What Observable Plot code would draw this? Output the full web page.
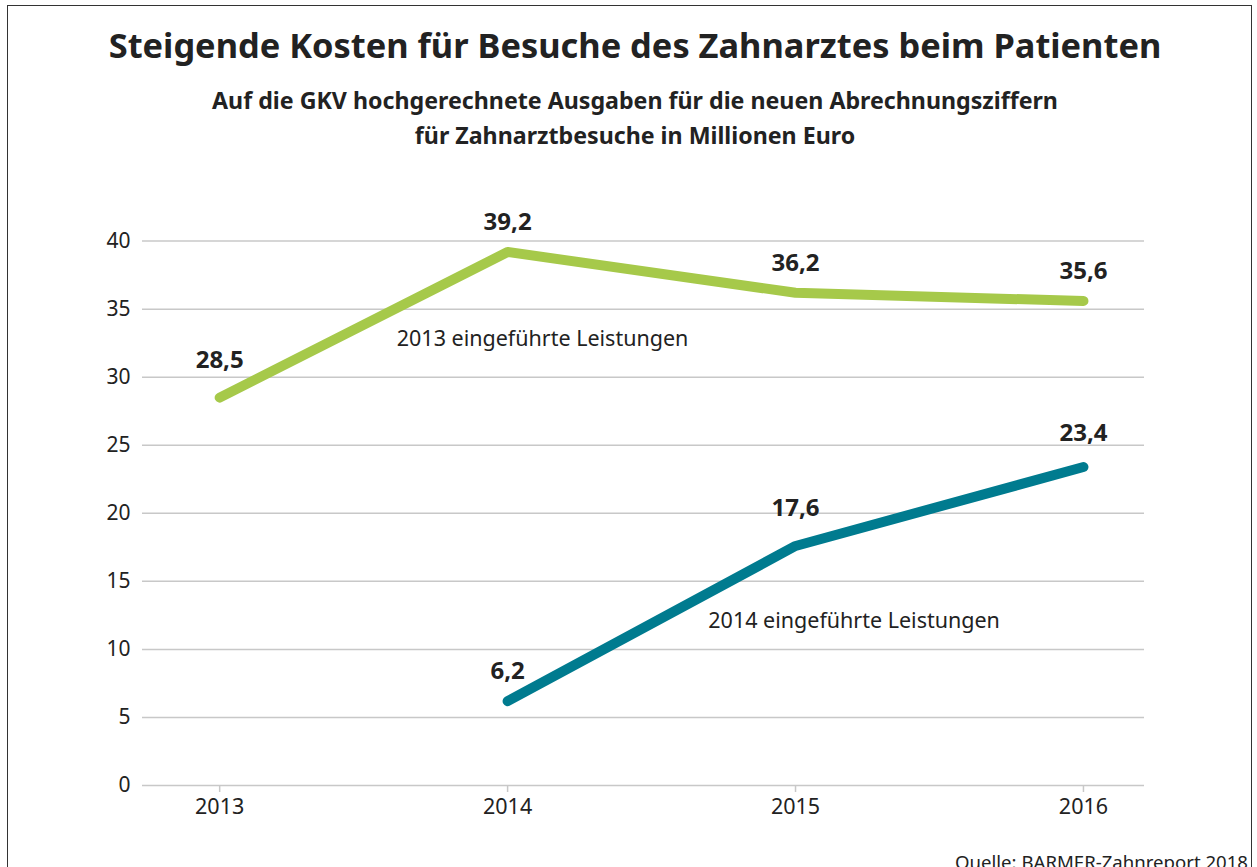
<!DOCTYPE html>
<html>
<head>
<meta charset="utf-8">
<script src="https://cdn.jsdelivr.net/npm/d3@7"></script>
<script src="https://cdn.jsdelivr.net/npm/@observablehq/plot@0.6"></script>
<style>
  html, body { margin: 0; padding: 0; background: #fff; }
  body { width: 1257px; height: 867px; overflow: hidden; position: relative; font-family: "Noto Sans", sans-serif; color: #222; }
  #frame { position: absolute; left: 7px; top: 5px; width: 1245px; height: 1000px; border: 1.5px solid #333; border-bottom: none; box-sizing: border-box; }
  #title { position: absolute; left: 10px; width: 1250px; top: 28px; text-align: center; font-size: 34.4px; line-height: 34px; font-weight: bold; white-space: nowrap; }
  #subtitle { position: absolute; left: 10px; width: 1250px; top: 83px; text-align: center; font-size: 23.2px; line-height: 35px; font-weight: bold; white-space: nowrap; }
  #caption { position: absolute; right: 9px; top: 852px; font-size: 18.6px; line-height: 19px; background: #fff; padding-left: 4px; white-space: nowrap; }
  #chart { position: absolute; left: 0; top: 0; }
</style>
</head>
<body>
<div id="frame"></div>
<div id="chart"></div>
<div id="title">Steigende Kosten für Besuche des Zahnarztes beim Patienten</div>
<div id="subtitle">Auf die GKV hochgerechnete Ausgaben für die neuen Abrechnungsziffern<br>für Zahnarztbesuche in Millionen Euro</div>
<div id="caption">Quelle: BARMER-Zahnreport 2018</div>
<script>
// ---- data ----
const years2013 = [2013, 2014, 2015, 2016];
const values2013 = [28.5, 39.2, 36.2, 35.6];
const years2014 = [2014, 2015, 2016];
const values2014 = [6.2, 17.6, 23.4];
const seriesNames = ["2013 eingeführte Leistungen", "2014 eingeführte Leistungen"];
const seriesColors = ["#a6c94a", "#007b8f"];
const xTicks = [2013, 2014, 2015, 2016];
const yTicks = [0, 5, 10, 15, 20, 25, 30, 35, 40];
// annotation anchors (in data units)
const annoX = [2013.615, 2014.697];
const annoY = [32.3, 11.6];

const fmt = v => v.toFixed(1).replace(".", ",");
const rows2013 = years2013.map((year, i) => ({year, value: values2013[i], series: seriesNames[0]}));
const rows2014 = years2014.map((year, i) => ({year, value: values2014[i], series: seriesNames[1]}));
const allRows = rows2013.concat(rows2014);
const annotations = seriesNames.map((name, i) => ({name, x: annoX[i], y: annoY[i]}));

// labels where the line rises steeply into the point sit a bit higher
const highLabel = new Set(["28,5", "17,6"]);
const midLabel = new Set(["23,4"]);

const chart = Plot.plot({
  width: 1257,
  height: 867,
  marginTop: 240.6,
  marginBottom: 82,
  marginLeft: 142,
  marginRight: 113,
  style: {fontFamily: "Noto Sans", color: "#222", background: "transparent", overflow: "visible"},
  x: {type: "linear", domain: [2012.732, 2016.212]},
  y: {domain: [0, 40]},
  marks: [
    Plot.gridY(yTicks, {stroke: "#c8c8c8", strokeOpacity: 1, strokeWidth: 1.5}),
    Plot.axisY({ticks: yTicks, tickSize: 0, tickPadding: 12, fontSize: 21, label: null}),
    Plot.axisX({ticks: xTicks, tickFormat: d => String(d), tickSize: 7, tickPadding: 6, stroke: "#c8c8c8", strokeWidth: 1.5, fontSize: 21.5, label: null}),
    Plot.line(rows2013, {x: "year", y: "value", stroke: seriesColors[0], strokeWidth: 10, strokeLinecap: "round", strokeLinejoin: "round"}),
    Plot.line(rows2014, {x: "year", y: "value", stroke: seriesColors[1], strokeWidth: 10, strokeLinecap: "round", strokeLinejoin: "round"}),
    Plot.text(allRows.filter(d => !highLabel.has(fmt(d.value)) && !midLabel.has(fmt(d.value))), {x: "year", y: "value", text: d => fmt(d.value), lineAnchor: "bottom", dy: -22, fontSize: 24, fontWeight: "bold", fill: "#222"}),
    Plot.text(allRows.filter(d => midLabel.has(fmt(d.value))), {x: "year", y: "value", text: d => fmt(d.value), lineAnchor: "bottom", dy: -26, fontSize: 24, fontWeight: "bold", fill: "#222"}),
    Plot.text(allRows.filter(d => highLabel.has(fmt(d.value))), {x: "year", y: "value", text: d => fmt(d.value), lineAnchor: "bottom", dy: -30, fontSize: 24, fontWeight: "bold", fill: "#222"}),
    Plot.text(annotations, {x: "x", y: "y", text: "name", textAnchor: "start", lineAnchor: "bottom", fontSize: 21.5, fill: "#222"})
  ]
});
document.getElementById("chart").appendChild(chart);
</script>
</body>
</html>
